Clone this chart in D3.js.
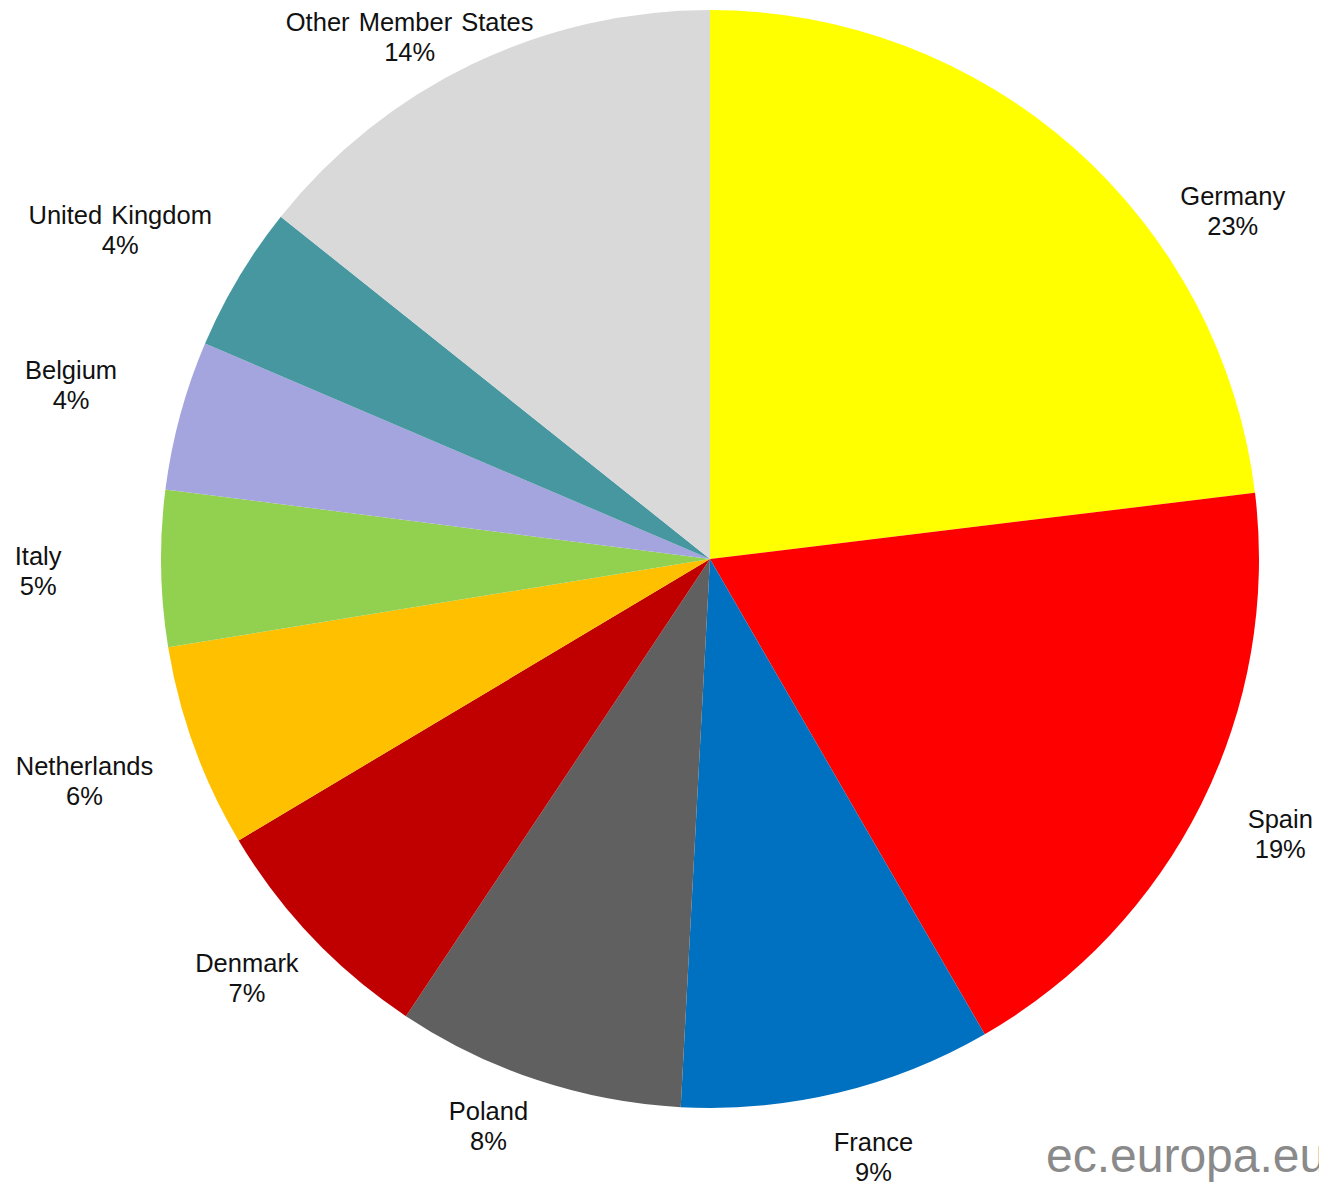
<!DOCTYPE html>
<html>
<head>
<meta charset="utf-8">
<script src="https://cdn.jsdelivr.net/npm/d3@7"></script>
<style>
  body { margin: 0; background: #fff; }
  text { font-family: "Liberation Sans", Arial, sans-serif; }
</style>
</head>
<body>
<div id="chart"></div>
<script>
// data, clockwise from 12 o'clock
var countries = ["Germany", "Spain", "France", "Poland", "Denmark", "Netherlands",
                 "Italy", "Belgium", "United Kingdom", "Other Member States"];
var shares = [23.1, 18.6, 9.2, 8.5, 7.1, 6.0, 4.6, 4.4, 4.3, 14.3];
var shareLabels = ["23%", "19%", "9%", "8%", "7%", "6%", "5%", "4%", "4%", "14%"];
var colors = ["#ffff00", "#ff0000", "#0070c0", "#606060", "#c00000", "#ffc000",
              "#92d050", "#a4a4de", "#4797a0", "#d9d9d9"];

// label placement tweaks (Excel "best fit"): distance factor and angle shift in degrees
var labelDist = [1.144, 1.153, 1.129, 1.109, 1.137, 1.209, 1.224, 1.206, 1.230, 1.097];
var labelTurn = [14.8, -0.8, -1.8, 3, 1.5, 0.5, 0, 0, -1.7, -4.2];

var width = 1319, height = 1183
  , cx = 710, cy = 559
  , radius = 549;

var svg = d3.select("#chart").append("svg")
    .attr("width", width)
    .attr("height", height);

var g = svg.append("g")
    .attr("transform", "translate(" + cx + "," + cy + ")");

var pie = d3.pie()
    .sort(null)
    .value(function(d) { return d; });

var arcs = pie(shares);

var arc = d3.arc()
    .innerRadius(0)
    .outerRadius(radius);

g.selectAll("path.slice")
    .data(arcs)
  .enter().append("path")
    .attr("class", "slice")
    .attr("d", arc)
    .attr("fill", function(d, i) { return colors[i]; });

// labels
var label = g.selectAll("text.label")
    .data(arcs)
  .enter().append("text")
    .attr("class", "label")
    .attr("text-anchor", "middle")
    .style("font-size", "25.5px")
    .style("word-spacing", "2px")
    .style("fill", "#111")
    .attr("transform", function(d, i) {
      var a = (d.startAngle + d.endAngle) / 2 + labelTurn[i] * Math.PI / 180;
      var r = radius * labelDist[i];
      return "translate(" + (Math.sin(a) * r) + "," + (-Math.cos(a) * r) + ")";
    });

label.append("tspan")
    .attr("x", 0)
    .attr("y", -6)
    .text(function(d, i) { return countries[i]; });

label.append("tspan")
    .attr("x", 0)
    .attr("y", 24)
    .text(function(d, i) { return shareLabels[i]; });

// watermark
svg.append("text")
    .attr("x", 1046)
    .attr("y", 1172)
    .style("font-size", "48px")
    .style("fill", "#8a8a8a")
    .text("ec.europa.eu");
</script>
</body>
</html>
